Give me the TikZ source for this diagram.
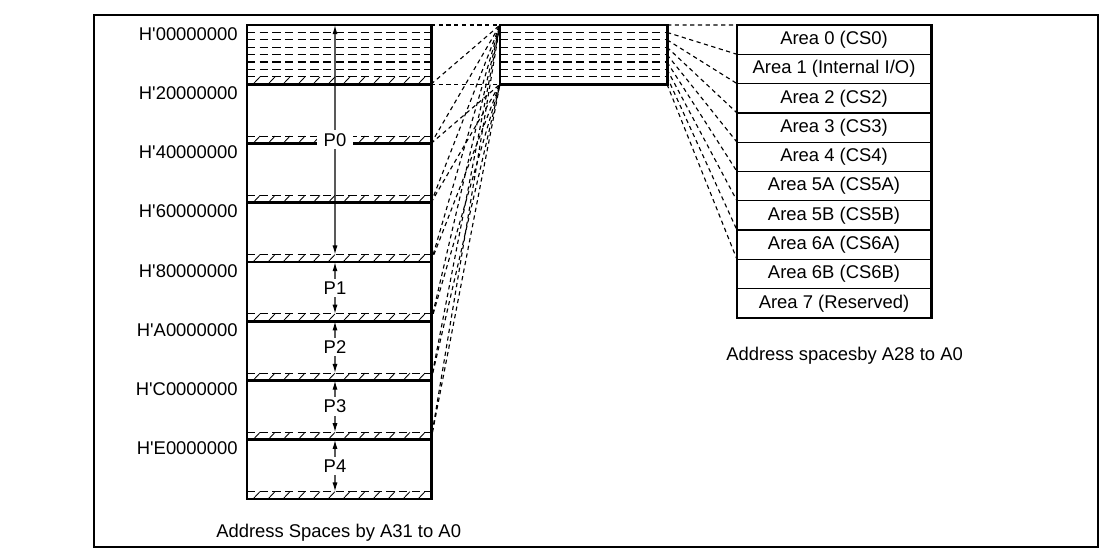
\documentclass[tikz,border=0pt]{standalone}
\usepackage{fontspec}
\setmainfont{Liberation Sans}
\usetikzlibrary{arrows.meta,calc}

\begin{document}
\begin{tikzpicture}[
  x=0.025cm, y=-0.025cm,
  font=\fontsize{13.1}{15}\selectfont,
  wall/.style={line width=2.1pt},
  seg/.style={draw, wall, minimum width=4.6cm, minimum height=1.48125cm, inner sep=0pt, outer sep=0pt},
  area/.style={draw, line width=0.9pt, minimum width=4.85cm, minimum height=0.7325cm, inner sep=0pt, outer sep=0pt},
  subline/.style={dash pattern=on 6pt off 3pt, line width=0.8pt},
  mapline/.style={dash pattern=on 3pt off 2.5pt, line width=0.8pt},
  hatch/.style={line width=0.6pt},
  parrow/.style={{Latex[length=6.5pt,width=3.6pt]}-{Latex[length=6.5pt,width=3.6pt]}, line width=0.9pt},
  plabel/.style={fill=white, inner xsep=5pt, inner ysep=2pt},
  addr/.style={anchor=north east, inner sep=0pt}
]
\useasboundingbox (0,0) rectangle (1103,556);
\draw[line width=1.5pt] (94,15) rectangle (1098,547);

% address spaces by A31 to A0
\node[seg] (r0) at (339, 54.625) {};
\node[seg] (r1) at (339,113.875) {};
\node[seg] (r2) at (339,173.125) {};
\node[seg] (r3) at (339,232.375) {};
\node[seg] (r4) at (339,291.625) {};
\node[seg] (r5) at (339,350.875) {};
\node[seg] (r6) at (339,410.125) {};
\node[seg] (r7) at (339,469.375) {};

\node[addr] (h0) at (238, 27)     {H\textquotesingle00000000};
\node[addr] (h1) at (238, 86.25)  {H\textquotesingle20000000};
\node[addr] (h2) at (238,145.5)   {H\textquotesingle40000000};
\node[addr] (h3) at (238,204.75)  {H\textquotesingle60000000};
\node[addr] (h4) at (238,264)     {H\textquotesingle80000000};
\node[addr] (h5) at (238,323.25)  {H\textquotesingle A0000000};
\node[addr] (h6) at (238,382.5)   {H\textquotesingle C0000000};
\node[addr] (h7) at (238,441.75)  {H\textquotesingle E0000000};

\foreach \k in {1,...,6}
  \draw[subline] ($(r0.north west)!\k/8!(r0.south west)$) -- ($(r0.north east)!\k/8!(r0.south east)$);
\foreach \k in {0,...,7} {
  \draw[subline] ($(r\k.north west)!7/8!(r\k.south west)$) -- ($(r\k.north east)!7/8!(r\k.south east)$);
  \foreach \x in {0,...,11}
    \draw[hatch] ($(r\k.south west)+(6+15*\x,0)$) -- ++(7,-7.4);
}

% address space by A28 to A0
\node[draw, wall, minimum width=4.175cm, minimum height=1.48125cm, inner sep=0pt, outer sep=0pt] (mid) at (583.5,54.625) {};
\foreach \k in {1,...,7}
  \draw[subline] ($(mid.north west)!\k/8!(mid.south west)$) -- ($(mid.north east)!\k/8!(mid.south east)$);

% areas
\node[area] (a0) at (834, 39.65)  {Area 0 (CS0)};
\node[area] (a1) at (834, 68.95)  {Area 1 (Internal I/O)};
\node[area] (a2) at (834, 98.25)  {Area 2 (CS2)};
\node[area] (a3) at (834,127.55)  {Area 3 (CS3)};
\node[area] (a4) at (834,156.85)  {Area 4 (CS4)};
\node[area] (a5) at (834,186.15)  {Area 5A (CS5A)};
\node[area] (a6) at (834,215.45)  {Area 5B (CS5B)};
\node[area] (a7) at (834,244.75)  {Area 6A (CS6A)};
\node[area] (a8) at (834,274.05)  {Area 6B (CS6B)};
\node[area] (a9) at (834,303.35)  {Area 7 (Reserved)};
\draw[wall] (a0.north west) rectangle (a9.south east);

% mapping lines
\foreach \k in {0,...,7}
  \draw[mapline] (r\k.north east) -- (mid.north west);
\foreach \k in {0,...,6}
  \draw[mapline] (r\k.south east) -- (mid.south west);
\foreach \k in {0,...,8}
  \draw[mapline] ($(mid.north east)!\k/8!(mid.south east)$) -- (a\k.north west);

% P0 to P4
\draw[parrow] ([xshift=-0.1cm]r0.north) -- ($(r3.south)+(-4,-7.4)$) node[midway, plabel] (p0) {P0};
\draw[parrow] ([xshift=-0.1cm]r4.north) -- ($(r4.south)+(-4,-7.4)$) node[midway, plabel] (p1) {P1};
\draw[parrow] ([xshift=-0.1cm]r5.north) -- ($(r5.south)+(-4,-7.4)$) node[midway, plabel] (p2) {P2};
\draw[parrow] ([xshift=-0.1cm]r6.north) -- ($(r6.south)+(-4,-7.4)$) node[midway, plabel] (p3) {P3};
\draw[parrow] ([xshift=-0.1cm]r7.north) -- ($(r7.south)+(-4,-7.4)$) node[midway, plabel] (p4) {P4};

\node[anchor=west, inner sep=0pt] (capl) at (216,533) {Address Spaces by A31 to A0};
\node[anchor=west, inner sep=0pt] (capr) at (726,356) {Address spacesby A28 to A0};
\end{tikzpicture}
\end{document}
